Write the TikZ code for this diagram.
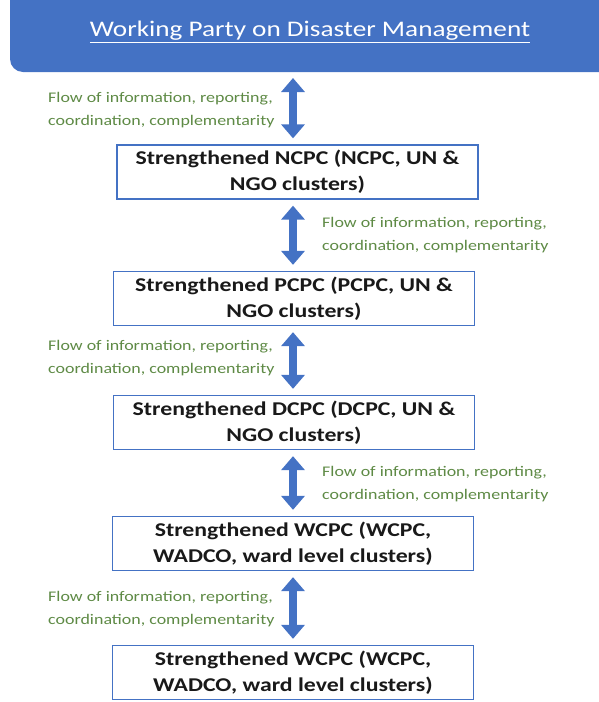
\documentclass[tikz,border=0pt]{standalone}
\usepackage{fontspec}
\setmainfont{Carlito}[FakeStretch=1.22]
\usetikzlibrary{arrows.meta}
\definecolor{wpblue}{HTML}{4472C4}
\definecolor{flowgreen}{HTML}{5E8A45}
\tikzset{
  levelbox/.style={draw=wpblue, line width=1.3pt, fill=white, minimum width=361pt, minimum height=54pt, inner sep=0pt,
    align=center, font=\fontsize{19.5}{26}\selectfont\bfseries, text=black!90},
  flowlabel/.style={align=left, font=\fontsize{14.7}{23}\selectfont, text=flowgreen, inner sep=0pt},
  flowarrow/.style={draw=wpblue, line width=8pt, {Triangle[width=23pt,length=14pt]}-{Triangle[width=23pt,length=14pt]}, shorten <=6pt, shorten >=6pt}
}
\begin{document}
\begin{tikzpicture}[x=1pt,y=-1pt]
\useasboundingbox (0,0) rectangle (599,702);
\fill[wpblue] (10,0) [rounded corners=13pt]-- (10,72) [sharp corners]-- (599,72) -- (599,0) -- cycle;
\node[text=white, font=\fontsize{22.3}{26}\selectfont, inner sep=0pt] (wp) at (310,32) {\underline{Working Party on Disaster Management}};
\coordinate (wpb) at (293,72);
\node[levelbox] (n1) at (297.5,172) {Strengthened NCPC (NCPC, UN \&\\NGO clusters)};
\node[levelbox] (n2) at (294,298.5) {Strengthened PCPC (PCPC, UN \&\\NGO clusters)};
\node[levelbox] (n3) at (294,422.5) {Strengthened DCPC (DCPC, UN \&\\NGO clusters)};
\node[levelbox] (n4) at (293,543.5) {Strengthened WCPC (WCPC,\\WADCO, ward level clusters)};
\node[levelbox] (n5) at (293,672.5) {Strengthened WCPC (WCPC,\\WADCO, ward level clusters)};
\draw[flowarrow] (wpb) -- (wpb |- n1.north);
\draw[flowarrow] (n1.south -| 293,0) -- (n2.north -| 293,0);
\draw[flowarrow] (n2.south -| 293,0) -- (n3.north -| 293,0);
\draw[flowarrow] (n3.south -| 293,0) -- (n4.north -| 293,0);
\draw[flowarrow] (n4.south -| 293,0) -- (n5.north -| 293,0);
\node[flowlabel, anchor=west] (l1) at (48,110) {Flow of information, reporting,\\coordination, complementarity};
\node[flowlabel, anchor=west] (l2) at (322,235) {Flow of information, reporting,\\coordination, complementarity};
\node[flowlabel, anchor=west] (l3) at (48,358) {Flow of information, reporting,\\coordination, complementarity};
\node[flowlabel, anchor=west] (l4) at (322,484) {Flow of information, reporting,\\coordination, complementarity};
\node[flowlabel, anchor=west] (l5) at (48,609) {Flow of information, reporting,\\coordination, complementarity};
\end{tikzpicture}
\end{document}
